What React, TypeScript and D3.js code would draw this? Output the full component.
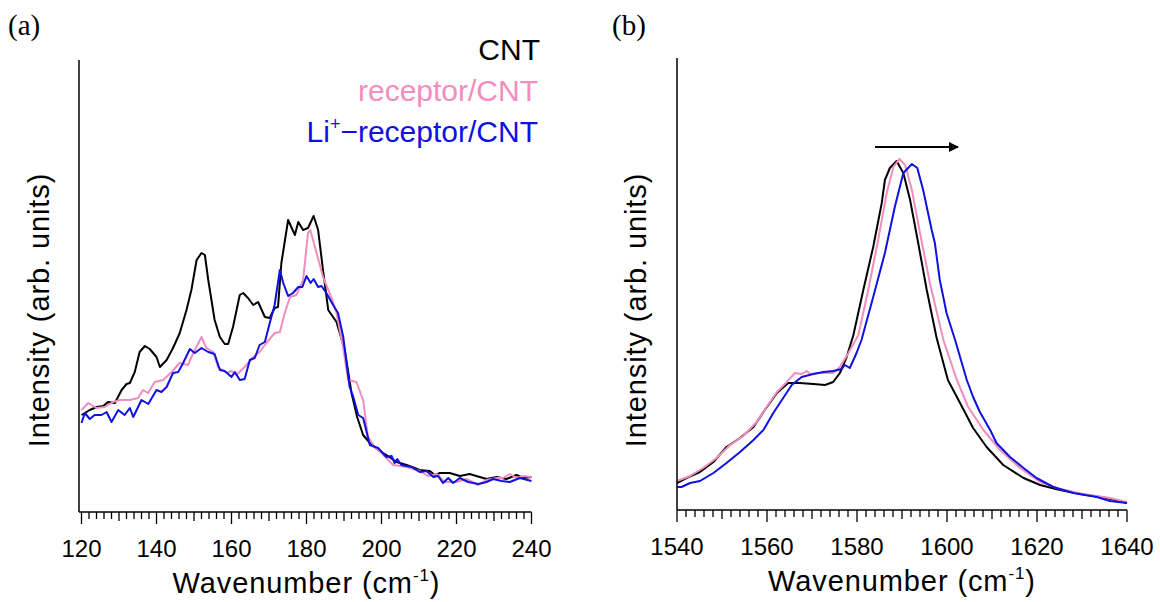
import React from "react";
import * as d3 from "d3";

// ---------- Data (wavenumber cm^-1, intensity arb. units) ----------
const cntA: [number, number][] = [
  [120, 97], [122.2, 102], [124, 105], [125.8, 106], [127.1, 110], [128.9, 109], [130.7, 122], [132, 128],
  [132.9, 129], [134.2, 140], [135.5, 160], [136.9, 166], [138.2, 163], [140, 155], [140.9, 145], [142.7, 152],
  [144.4, 164], [146.2, 179], [148, 202], [149.3, 222], [150.7, 252], [152, 259], [152.9, 257], [153.8, 232],
  [155.5, 192], [156.9, 175], [158.2, 168], [159.1, 168], [160.4, 185], [162.2, 217], [163.1, 219], [164.4, 214],
  [165.8, 207], [167.1, 210], [168.9, 195], [170.2, 194], [171.5, 204], [172.4, 205], [173.3, 249], [175.1, 292],
  [176.9, 277], [177.8, 290], [179.1, 282], [180.4, 284], [181.9, 296], [183.1, 282], [184.4, 242], [185.8, 202],
  [188, 190], [190.2, 162], [192, 119], [193.5, 95], [195.1, 77], [196.9, 69], [199.1, 62], [201.3, 57], [204, 50],
  [206.7, 47], [210.2, 42], [212.9, 41], [214.2, 37], [215.6, 39], [218.2, 39], [220.9, 36], [223.5, 38],
  [226.2, 35], [228, 33], [230.7, 35], [233.3, 33], [236, 37], [237.8, 34], [240, 35],
];
const receptorA: [number, number][] = [
  [120, 102], [121.8, 109], [124, 104], [126.2, 105], [128.4, 110], [130.2, 112], [132.9, 112], [135.1, 114],
  [136.4, 122], [137.8, 119], [139.5, 130], [141.8, 132], [144, 140], [146.2, 149], [148.4, 147], [149.8, 159],
  [152, 175], [153.3, 164], [155.1, 160], [156.4, 145], [158.7, 139], [160, 141], [161.3, 137], [163.5, 145],
  [165.8, 155], [167.5, 160], [169.3, 169], [171.5, 179], [172.9, 180], [174.2, 199], [175.6, 215], [177.3, 217],
  [179.1, 232], [180.4, 279], [181, 282], [182.7, 259], [184.4, 235], [186.7, 214], [188, 199], [189.8, 164],
  [191.1, 132], [193.3, 130], [195.1, 112], [196.4, 75], [198.2, 65], [200, 59], [203.1, 47], [206.7, 45],
  [210.2, 41], [212.4, 36], [214.7, 38], [216.9, 30], [220, 30], [222.7, 33], [225.8, 27], [228, 32],
  [230.7, 34], [232.4, 34], [234.2, 38], [236, 34], [237.8, 36], [240, 35],
];
const liA: [number, number][] = [
  [120, 89], [120.9, 99], [122.2, 93], [123.5, 97], [125.3, 97], [126.7, 100], [128, 90], [129.8, 102],
  [131.5, 97], [132.9, 104], [133.8, 95], [136, 112], [137.8, 108], [140, 122], [141.3, 120], [142.7, 125],
  [144.4, 139], [145.8, 140], [147.1, 149], [148.9, 163], [150.2, 159], [152, 164], [153.8, 160], [155.5, 158],
  [156.9, 142], [158.2, 141], [160, 135], [160.9, 140], [162.2, 132], [163.5, 133], [164.9, 152], [166.2, 154],
  [167.5, 167], [168.9, 170], [170.2, 189], [171.5, 207], [172.9, 242], [173.8, 229], [175.1, 216], [176.4, 219],
  [177.8, 225], [178.9, 225], [180, 236], [181.1, 229], [181.9, 233], [183.1, 225], [184, 226], [185.3, 219],
  [187.1, 207], [188.4, 199], [189.8, 175], [191.5, 125], [192.4, 116], [193.8, 97], [195.1, 94], [196.9, 67],
  [199.1, 64], [201.3, 55], [202.7, 56], [203.5, 49], [204.2, 53], [205.3, 47], [208, 45], [210.2, 40],
  [212, 41], [213.8, 35], [215.1, 36], [216.4, 29], [217.8, 34], [219.1, 29], [220.9, 34], [223.1, 30],
  [225.8, 28], [228, 30], [229.8, 33], [232, 31], [234.2, 30], [236.9, 34], [240, 31],
];

const cntB: [number, number][] = [
  [1540, 27], [1542.1, 32], [1545.1, 38], [1548.1, 48], [1551, 63], [1554, 72], [1557, 83], [1559.2, 98],
  [1562.2, 117], [1564.7, 127], [1567.3, 127], [1570.3, 126], [1572.9, 125], [1574.7, 128], [1576.2, 137],
  [1577.7, 153], [1579.2, 175], [1581.4, 220], [1583.6, 263], [1585.5, 307], [1586.2, 330], [1587.3, 342],
  [1588.8, 349], [1590.3, 337], [1591.8, 310], [1593.6, 267], [1595.5, 220], [1597.7, 172], [1600.2, 130],
  [1602.9, 107], [1605.8, 82], [1608.8, 63], [1612.5, 45], [1617, 32], [1620.7, 25], [1625.1, 20],
  [1629.6, 16], [1635.5, 12], [1640, 7],
];
const receptorB: [number, number][] = [
  [1540, 29], [1542.9, 34], [1545.8, 42], [1548.8, 52], [1551.8, 65], [1554.7, 74], [1557.7, 88], [1559.9, 103],
  [1562.2, 118], [1564.4, 128], [1566.2, 137], [1567.7, 136], [1568.8, 139], [1569.6, 136], [1571.8, 137],
  [1574.7, 137], [1576.2, 143], [1578.1, 157], [1580.3, 175], [1582.5, 220], [1584.7, 270], [1586.6, 317],
  [1588.1, 343], [1589.4, 351], [1590.7, 345], [1592.2, 320], [1594, 277], [1596.2, 227], [1599.2, 170],
  [1602.2, 130], [1604.7, 103], [1608.1, 80], [1611.8, 60], [1616.2, 42], [1620.7, 28], [1625.1, 21],
  [1630.3, 16], [1636.2, 12], [1640, 8],
];
const liB: [number, number][] = [
  [1540, 23], [1541, 23], [1542.9, 27], [1545.1, 29], [1548.1, 37], [1551, 47], [1554, 58], [1557, 70],
  [1559.2, 80], [1561.4, 97], [1563.6, 112], [1565.5, 125], [1567.7, 133], [1570.3, 136], [1572.5, 138],
  [1574.7, 139], [1576.6, 141], [1577.3, 145], [1578.4, 142], [1579.9, 157], [1581, 170], [1583.6, 213],
  [1586.2, 257], [1588.4, 303], [1590.3, 337], [1592.2, 346], [1593.4, 342], [1594.7, 320], [1596.6, 280],
  [1597.3, 267], [1598.4, 230], [1599.9, 197], [1601.8, 170], [1604.4, 130], [1605.8, 113], [1607.3, 98],
  [1609.6, 80], [1611, 67], [1614, 53], [1617, 42], [1619.9, 32], [1623.6, 23], [1628.1, 17], [1633.3, 13],
  [1636.2, 9], [1640, 7],
];

const ticksA = [120, 140, 160, 180, 200, 220, 240];
const ticksB = [1540, 1560, 1580, 1600, 1620, 1640];
const legendLabels = ["CNT", "receptor/CNT", "Li+-receptor/CNT"];

const COLORS = { cnt: "#000000", receptor: "#F28DBE", li: "#1010E0" };
const SANS = "'Liberation Sans', Arial, sans-serif";
const SERIF = "'Liberation Serif', 'Times New Roman', serif";

type PanelProps = {
  xDomain: [number, number];
  xRange: [number, number];
  yAxisX: number;
  yTop: number;
  yBottom: number;
  ticks: number[];
  series: { data: [number, number][]; color: string }[];
  label: string;
  labelX: number;
  yTitleX: number;
};

function Panel(p: PanelProps) {
  const x = d3.scaleLinear().domain(p.xDomain).range(p.xRange);
  const y = d3.scaleLinear().domain([0, 452]).range([p.yBottom, p.yTop]);
  const line = d3
    .line<[number, number]>()
    .x((d) => x(d[0]))
    .y((d) => y(d[1]));
  const minor = d3.range(p.xDomain[0], p.xDomain[1] + 0.001, 2);
  const xMid = (p.xRange[0] + p.xRange[1]) / 2;
  const yMid = 310;
  return (
    <g>
      <text x={p.labelX} y={35} fontFamily={SERIF} fontSize={29}>
        {p.label}
      </text>
      {p.series.map((s, i) => (
        <path key={i} d={line(s.data) || ""} fill="none" stroke={s.color} strokeWidth={2} strokeLinejoin="round" />
      ))}
      <line x1={p.yAxisX} x2={p.yAxisX} y1={p.yTop} y2={p.yBottom} stroke="#000" strokeWidth={1.5} />
      <line x1={p.yAxisX} x2={p.xRange[1]} y1={p.yBottom} y2={p.yBottom} stroke="#000" strokeWidth={1.5} />
      {minor.map((v) => {
        const off = v - p.xDomain[0];
        const len = off % 20 === 0 ? 12 : off % 10 === 0 ? 9 : 7;
        return (
          <line key={v} x1={x(v)} x2={x(v)} y1={p.yBottom} y2={p.yBottom + len} stroke="#000" strokeWidth={1.3} />
        );
      })}
      {p.ticks.map((t) => (
        <text key={t} x={x(t)} y={p.yBottom + 45} textAnchor="middle" fontFamily={SANS} fontSize={24}>
          {t}
        </text>
      ))}
      <text x={xMid} y={p.yBottom + 81} textAnchor="middle" fontFamily={SANS} fontSize={29} letterSpacing={0.9}>
        Wavenumber (cm
        <tspan fontSize={17} dy={-12}>-1</tspan>
        <tspan dy={12}>)</tspan>
      </text>
      <text
        transform={`translate(${p.yTitleX},${yMid}) rotate(-90)`}
        textAnchor="middle"
        fontFamily={SANS}
        fontSize={29}
        letterSpacing={0.9}
      >
        Intensity (arb. units)
      </text>
    </g>
  );
}

export default function App() {
  return (
    <svg
      width={1160}
      height={602}
      style={{ position: "absolute", left: 0, top: 0, background: "#fff" }}
    >
      <rect width={1160} height={602} fill="#fff" />
      <Panel
        xDomain={[120, 240]}
        xRange={[81.5, 531.5]}
        yAxisX={79}
        yTop={60}
        yBottom={512}
        ticks={ticksA}
        series={[
          { data: cntA, color: COLORS.cnt },
          { data: receptorA, color: COLORS.receptor },
          { data: liA, color: COLORS.li },
        ]}
        label="(a)"
        labelX={8}
        yTitleX={49}
      />
      <Panel
        xDomain={[1540, 1640]}
        xRange={[677, 1127]}
        yAxisX={677}
        yTop={58}
        yBottom={510}
        ticks={ticksB}
        series={[
          { data: cntB, color: COLORS.cnt },
          { data: receptorB, color: COLORS.receptor },
          { data: liB, color: COLORS.li },
        ]}
        label="(b)"
        labelX={612}
        yTitleX={646}
      />
      {/* legend */}
      <g fontFamily={SANS} fontSize={30} textAnchor="end">
        <text x={540} y={60} fill={COLORS.cnt}>{legendLabels[0]}</text>
        <text x={538} y={101} fill={COLORS.receptor}>{legendLabels[1]}</text>
        <text x={538} y={142} fill={COLORS.li}>
          Li<tspan fontSize={18} dy={-12}>+</tspan>
          <tspan dy={12}>{"\u2212receptor/CNT"}</tspan>
        </text>
      </g>
      {/* shift arrow */}
      <defs>
        <marker id="arrowhead" markerWidth={10} markerHeight={10} refX={9} refY={5} orient="auto" markerUnits="userSpaceOnUse">
          <path d="M0,0 L10,5 L0,10 Z" fill="#000" />
        </marker>
      </defs>
      <line x1={875} x2={958} y1={147} y2={147} stroke="#000" strokeWidth={2} markerEnd="url(#arrowhead)" />
    </svg>
  );
}
